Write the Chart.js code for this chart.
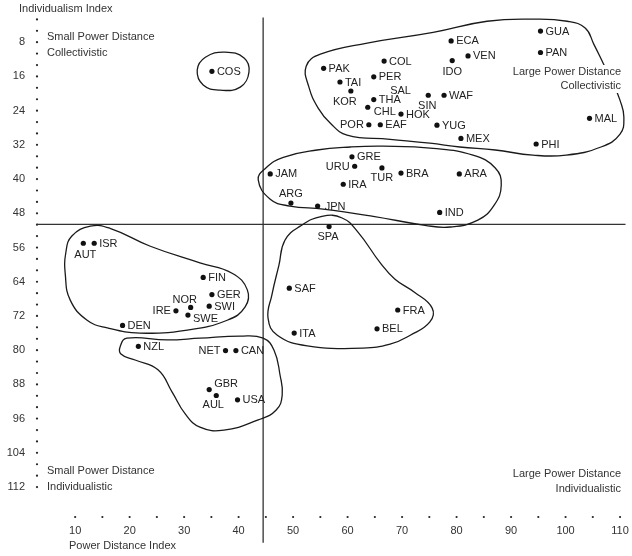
<!DOCTYPE html>
<html>
<head>
<meta charset="utf-8">
<script src="https://cdn.jsdelivr.net/npm/chart.js@4.4.1/dist/chart.umd.min.js"></script>
<style>
  html, body { margin: 0; padding: 0; background: #fff; }
  #wrap { width: 632px; height: 556px; }
</style>
</head>
<body>
<div id="wrap"><canvas id="chart"></canvas></div>
<script>
// country codes with Power Distance (x) and Individualism (y)
const codes = ['COS','PAK','COL','ECA','IDO','VEN','GUA','PAN','PER','TAI','KOR','SAL','THA','CHL','SIN','WAF',
  'HOK','POR','EAF','YUG','MEX','PHI','MAL','GRE','URU','TUR','BRA','ARA','JAM','IRA','ARG','JPN','IND','SPA',
  'AUT','ISR','FIN','GER','SWI','NOR','IRE','SWE','DEN','NZL','NET','CAN','GBR','AUL','USA','SAF','FRA','BEL','ITA'];
const pdi = [35.1, 55.6, 66.7, 79.0, 79.2, 82.1, 95.4, 95.4, 64.8, 58.6, 60.6, 66.9, 64.8, 63.7, 74.8, 77.7,
  69.8, 63.9, 66.0, 76.4, 80.8, 94.6, 104.4, 60.8, 61.3, 66.3, 69.8, 80.5, 45.8, 59.2, 49.6, 54.5, 76.9, 56.6,
  11.5, 13.5, 33.5, 35.1, 34.6, 31.2, 28.5, 30.7, 18.7, 21.6, 37.6, 39.5, 34.6, 35.9, 39.8, 49.3, 69.2, 65.4, 50.2];
const idv = [14.8, 14.1, 12.4, 7.7, 12.3, 11.2, 5.4, 10.4, 16.1, 17.3, 19.4, 19.2, 21.4, 23.2, 20.4, 20.4,
  24.8, 27.3, 27.3, 27.4, 30.5, 31.8, 25.8, 34.8, 37.0, 37.4, 38.6, 38.8, 38.8, 41.2, 45.6, 46.3, 47.8, 51.1,
  55.0, 55.0, 63.0, 67.0, 69.7, 70.0, 70.8, 71.8, 74.2, 79.1, 80.1, 80.1, 89.2, 90.6, 91.6, 65.5, 70.6, 75.0, 76.0];

const xTicks = [10, 20, 30, 40, 50, 60, 70, 80, 90, 100, 110];
const yTicks = [8, 16, 24, 32, 40, 48, 56, 64, 72, 80, 88, 96, 104, 112];
const pdiCut = 44.5;
const idvCut = 50.6;

// cluster outlines (PDI, IDV)
const outlineCOS = [[37.5,10.3],[41.0,11.7],[41.9,15.0],[40.3,18.5],[36.6,19.2],[33.5,18.0],[32.4,14.5],[33.9,11.5]];
const outlineLatinAsia = [[52.4,13.6],[55.0,10.8],[63.6,8.2],[75.7,5.7],[85.6,3.1],[94.0,2.6],[100.3,3.1],[103.6,4.7],
  [105.2,8.5],[106.9,12.9],[108.7,17.6],[110.0,21.6],[110.7,25.5],[110.0,29.5],[106.5,32.5],[100.1,34.4],[94.0,34.4],
  [87.1,33.2],[80.6,32.5],[75.1,31.6],[67.8,30.7],[59.9,29.7],[56.8,26.9],[54.6,23.4],[52.9,18.5]];
const outlineMiddle = [[43.6,40.2],[45.0,37.4],[48.2,34.9],[54.4,33.2],[60.5,32.5],[66.5,32.3],[75.7,32.8],[83.0,34.4],
  [87.1,37.4],[88.2,41.4],[86.9,46.1],[83.9,49.6],[78.8,51.2],[74.2,50.8],[64.7,48.7],[55.5,47.0],[49.4,46.3],[45.8,44.7]];
const outlineLatinEurope = [[51.3,51.0],[55.3,48.7],[59.0,49.1],[61.9,52.4],[66.0,59.6],[68.7,63.4],[72.2,66.4],[75.5,70.1],
  [75.1,73.4],[71.5,76.5],[67.8,78.6],[62.8,79.5],[52.6,79.0],[47.1,76.5],[45.4,72.5],[46.1,67.1],[47.4,60.1],[48.5,54.3]];
const outlineGermanic = [[8.3,57.1],[9.4,53.3],[12.8,51.0],[16.4,51.5],[23.8,55.7],[32.9,59.6],[38.8,62.0],[41.6,65.9],
  [41.2,69.9],[37.9,73.0],[30.6,75.3],[21.9,76.0],[15.9,74.8],[12.2,73.0],[9.1,68.3],[8.2,62.4]];
const outlineAnglo = [[18.3,79.0],[19.5,77.2],[26.9,77.6],[32.9,77.2],[40.3,76.7],[44.5,77.2],[46.5,80.0],[47.6,85.8],
  [48.0,90.5],[46.9,94.0],[43.6,96.3],[37.3,98.7],[32.9,98.0],[30.2,94.9],[27.8,89.8],[25.2,84.6],[21.0,82.3],[18.4,80.9]];

// label placement: [dx, dy, align]; default is to the right of the dot
const labelShift = {
  POR: [-5, 0, 'right'], URU: [-5, 0, 'right'], IRE: [-5, 0, 'right'], NET: [-5, 0, 'right'],
  IDO: [0, 11, 'center'], KOR: [-6, 10, 'center'], SIN: [-1, 10, 'center'], AUT: [2, 11, 'center'],
  AUL: [-3, 9, 'center'], SPA: [-1, 10, 'center'], TUR: [0, 9, 'center'],
  ARG: [0, -10, 'center'], NOR: [-6, -8, 'center'],
  GBR: [5, -6, 'left'], CHL: [6, 4, 'left'], SWE: [5, 3, 'left'], JPN: [7, 0, 'left']
};

const FONT = '11px "Liberation Sans", Arial, sans-serif';

function closedLoop(pts) {
  const n = pts.length;
  return [pts[n - 1], ...pts, pts[0], pts[1]].map(p => ({ x: p[0], y: p[1] }));
}

function outlineSet(pts) {
  const last = pts.length + 1;
  return {
    data: closedLoop(pts),
    showLine: true,
    pointRadius: 0,
    borderColor: '#1a1a1a',
    borderWidth: 1.3,
    tension: 0.45,
    segment: {
      borderColor: c => (c.p0DataIndex === 0 || c.p0DataIndex === last) ? 'rgba(0,0,0,0)' : undefined
    }
  };
}

const decor = {
  id: 'decor',
  beforeDatasetsDraw(chart) {
    const { ctx, chartArea, scales: { x, y } } = chart;
    ctx.save();
    ctx.fillStyle = '#222';
    const dot = (px, py) => { ctx.beginPath(); ctx.arc(px, py, 1.1, 0, Math.PI * 2); ctx.fill(); };
    for (let v = 10; v <= 110; v += 5) dot(x.getPixelForValue(v), chartArea.bottom);
    for (let n = 1; n <= 42; n++) dot(chartArea.left, y.getPixelForValue(n * 8 / 3));
    ctx.restore();
  },
  afterDatasetsDraw(chart) {
    const { ctx } = chart;
    const meta = chart.getDatasetMeta(0);
    ctx.save();
    ctx.font = FONT;
    ctx.fillStyle = '#222';
    ctx.textBaseline = 'middle';
    meta.data.forEach((pt, i) => {
      const s = labelShift[codes[i]] || [5, 0, 'left'];
      ctx.textAlign = s[2];
      ctx.fillText(codes[i], pt.x + s[0], pt.y + s[1] + 0.5);
    });

    // quadrant notes
    ctx.fillStyle = '#fff';
    ctx.fillRect(510, 65, 114, 28);
    ctx.fillStyle = '#333';
    ctx.textAlign = 'left';
    ctx.fillText('Small Power Distance', 47, 37);
    ctx.fillText('Collectivistic', 47, 53);
    ctx.fillText('Small Power Distance', 47, 471);
    ctx.fillText('Individualistic', 47, 487);
    ctx.textAlign = 'right';
    ctx.fillText('Large Power Distance', 621, 72);
    ctx.fillText('Collectivistic', 621, 86);
    ctx.fillText('Large Power Distance', 621, 474);
    ctx.fillText('Individualistic', 621, 489);

    // axis titles
    ctx.textAlign = 'left';
    ctx.fillText('Individualism Index', 19, 9);
    ctx.fillText('Power Distance Index', 69, 546);
    ctx.restore();
  }
};

new Chart(document.getElementById('chart'), {
  type: 'scatter',
  data: {
    datasets: [
      {
        data: codes.map((c, i) => ({ x: pdi[i], y: idv[i] })),
        pointRadius: c => codes[c.dataIndex] === 'SAL' ? 0 : 2.6,
        pointBackgroundColor: '#111',
        pointBorderWidth: 0
      },
      outlineSet(outlineCOS),
      outlineSet(outlineLatinAsia),
      outlineSet(outlineMiddle),
      outlineSet(outlineLatinEurope),
      outlineSet(outlineGermanic),
      outlineSet(outlineAnglo),
      {
        data: [{ x: pdiCut, y: 2.2 }, { x: pdiCut, y: 125 }],
        showLine: true, pointRadius: 0, borderColor: '#333', borderWidth: 1.3, clip: false
      },
      {
        data: [{ x: 3, y: idvCut }, { x: 111, y: idvCut }],
        showLine: true, pointRadius: 0, borderColor: '#333', borderWidth: 1.3, clip: false
      }
    ]
  },
  options: {
    responsive: true,
    maintainAspectRatio: false,
    animation: false,
    events: [],
    layout: { padding: { top: 8, right: 6.5, left: 0, bottom: 0 } },
    plugins: {
      legend: { display: false },
      tooltip: { enabled: false }
    },
    scales: {
      x: {
        type: 'linear',
        min: 3,
        max: 111,
        afterBuildTicks: s => { s.ticks = xTicks.map(v => ({ value: v })); },
        afterFit: s => { s.height = 39; s.paddingLeft = 0; s.paddingRight = 0; },
        grid: { display: false, drawTicks: false },
        border: { display: false },
        ticks: { padding: 7, color: '#333', font: { family: '"Liberation Sans", Arial, sans-serif', size: 11 } }
      },
      y: {
        type: 'linear',
        reverse: true,
        min: 0,
        max: 119,
        afterBuildTicks: s => { s.ticks = yTicks.map(v => ({ value: v })); },
        afterFit: s => { s.width = 37; s.paddingTop = 0; s.paddingBottom = 0; },
        grid: { display: false, drawTicks: false },
        border: { display: false },
        ticks: { padding: 12, color: '#333', font: { family: '"Liberation Sans", Arial, sans-serif', size: 11 } }
      }
    }
  },
  plugins: [decor]
});
</script>
</body>
</html>
